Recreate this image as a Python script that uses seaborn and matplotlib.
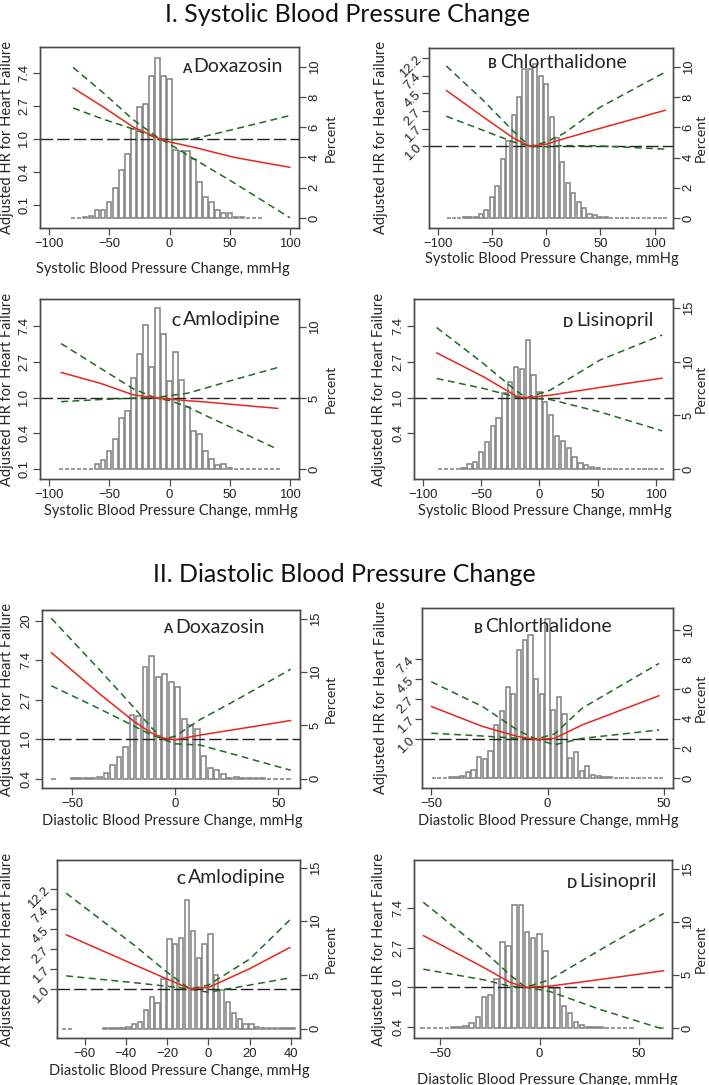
import numpy as np
import matplotlib
matplotlib.use("Agg")
import matplotlib.pyplot as plt
import seaborn as sns

sns.set_style("ticks")
plt.rcParams["font.family"] = ["Lato", "DejaVu Sans"]
plt.rcParams["lines.scale_dashes"] = False

# ---------------- data (log HR, % off the right axis) ----------------
# I. systolic -- A Doxazosin
sbp_dox_x = [-80, -55, -30, -8, 0, 20, 54, 100]
sbp_dox_fit = [1.55, 0.97, 0.36, 0.0, -0.09, -0.25, -0.56, -0.86]
sbp_dox_ci_a = [2.17, 1.40, 0.58, 0.0, -0.15, -0.60, -1.34, -2.39]
sbp_dox_ci_b = [0.94, 0.60, 0.30, 0.0, -0.02, 0.00, 0.30, 0.71]
sbp_dox_bin0, sbp_dox_binw = -80, 5
sbp_dox_pct = [0.03, 0.03, 0.05, 0.1, 0.5, 0.5, 1.05, 2.0, 3.15, 4.25,
               5.9, 7.35, 7.55, 9.4, 10.6, 9.4, 9.2, 4.5, 4.45, 4.4,
               3.9, 2.4, 1.4, 1.05, 0.5, 0.35, 0.3, 0.05, 0.05, 0.03,
               0.03, 0.03]

# I. systolic -- B Chlorthalidone
sbp_chl_x = [-92, -58, -30, -15, 0, 16, 50, 110]
sbp_chl_fit = [1.58, 0.83, 0.23, 0.0, 0.06, 0.21, 0.51, 1.02]
sbp_chl_ci_a = [2.27, 1.30, 0.42, 0.0, 0.12, 0.36, 1.11, 2.10]
sbp_chl_ci_b = [0.85, 0.45, 0.12, 0.0, -0.01, 0.02, 0.01, -0.08]
sbp_chl_bin0, sbp_chl_binw = -90, 5
sbp_chl_pct = [0.03, 0.03, 0.03, 0.05, 0.05, 0.1, 0.3, 0.5, 1.4, 2.1,
               3.9, 5.1, 6.8, 8.0, 9.9, 9.9, 10.2, 9.4, 8.85, 6.7,
               5.3, 3.7, 2.3, 1.65, 1.05, 0.65, 0.3, 0.2, 0.1, 0.05,
               0.03, 0.03, 0.02, 0.02, 0, 0, 0, 0, 0, 0, 0]

# I. systolic -- C Amlodipine
sbp_aml_x = [-90, -57, -30, -12, 0, 14, 30, 53, 90]
sbp_aml_fit = [0.71, 0.40, 0.08, 0.0, -0.04, -0.08, -0.12, -0.19, -0.30]
sbp_aml_ci_a = [1.52, 0.82, 0.25, 0.0, 0.06, 0.12, 0.27, 0.50, 0.85]
sbp_aml_ci_b = [-0.11, -0.05, -0.01, 0.0, -0.08, -0.24, -0.50, -0.86, -1.45]
sbp_aml_bin0, sbp_aml_binw = -90, 5
sbp_aml_pct = [0, 0, 0, 0, 0.02, 0.05, 0.4, 0.65, 1.3, 2.1,
               3.6, 4.1, 6.4, 8.1, 10.1, 7.2, 11.35, 9.5, 6.2, 8.2,
               6.3, 4.35, 2.7, 2.5, 1.3, 0.7, 0.3, 0.4, 0.1, 0.05,
               0.03, 0.03, 0.02, 0.02, 0.02, 0, 0]

# I. systolic -- D Lisinopril
sbp_lis_x = [-88, -48, -19, -11, 9, 52, 105]
sbp_lis_fit = [1.26, 0.59, 0.03, 0.0, 0.07, 0.29, 0.55]
sbp_lis_ci_a = [1.97, 0.96, 0.17, 0.0, 0.21, 1.06, 1.76]
sbp_lis_ci_b = [0.54, 0.26, 0.01, 0.0, -0.05, -0.40, -0.93]
sbp_lis_bin0, sbp_lis_binw = -85, 5
sbp_lis_pct = [0.03, 0.03, 0.03, 0.05, 0.1, 0.5, 0.7, 1.65, 2.5, 4.0,
               4.8, 7.1, 8.1, 9.5, 9.3, 11.95, 8.75, 7.2, 6.2, 5.05,
               3.1, 2.6, 1.95, 1.1, 0.6, 0.4, 0.25, 0.15, 0.05, 0.03,
               0.03, 0.02, 0, 0, 0, 0, 0, 0, 0]

# II. diastolic -- A Doxazosin
dbp_dox_x = [-60, -36, -20, -12, -6, 0, 12, 30, 56]
dbp_dox_fit = [2.19, 1.12, 0.45, 0.17, 0.03, -0.02, 0.10, 0.25, 0.47]
dbp_dox_ci_a = [3.06, 1.72, 0.80, 0.32, 0.0, 0.07, 0.49, 1.00, 1.77]
dbp_dox_ci_b = [1.35, 0.75, 0.33, 0.12, 0.0, -0.12, -0.15, -0.41, -0.79]
dbp_dox_bin0, dbp_dox_binw = -58.8, 3.16
dbp_dox_pct = [0, np.nan, np.nan, 0.03, 0.03, 0.05, 0.1, 0.2, 0.5, 1.3,
               2.0, 3.0, 6.0, 5.9, 10.5, 11.5, 9.5, 9.8, 9.1, 8.65,
               5.6, 5.0, 4.65, 2.15, 1.0, 0.8, 0.4, 0.05, 0.15, 0.03,
               0.03, 0.02, 0.02, 0, 0, 0, 0]

# II. diastolic -- B Chlorthalidone
dbp_chl_x = [-50, -28, -13, -5, 3, 15, 48]
dbp_chl_fit = [0.82, 0.32, 0.07, -0.01, 0.02, 0.36, 1.09]
dbp_chl_ci_a = [1.44, 0.82, 0.23, 0.0, 0.13, 0.78, 1.90]
dbp_chl_ci_b = [0.15, 0.08, 0.02, 0.0, -0.14, 0.02, 0.23]
dbp_chl_bin0, dbp_chl_binw = -49, 2.45
dbp_chl_pct = [0.02, 0.03, 0.03, 0.05, 0.1, 0.15, 0.4, 0.55, 1.45, 1.25,
               1.85, 3.55, 4.5, 6.1, 5.65, 8.6, 9.3, 9.6, 6.7, 5.65,
               10.7, 4.55, 5.45, 4.3, 1.35, 1.75, 0.5, 0.8, 0.2, 0.15,
               0.05, 0.05, 0.03, 0.03, 0.02, 0.02, 0, 0, 0, 0, 0]

# II. diastolic -- C Amlodipine
dbp_aml_x = [-69, -36, -20, -9, 0, 20, 39.5]
dbp_aml_fit = [1.36, 0.61, 0.25, 0.01, 0.04, 0.51, 1.04]
dbp_aml_ci_a = [2.40, 1.10, 0.42, 0.0, 0.10, 0.75, 1.73]
dbp_aml_ci_b = [0.33, 0.16, 0.07, 0.0, -0.08, 0.10, 0.28]
dbp_aml_bin0, dbp_aml_binw = -70.04, 2.84
dbp_aml_pct = [0, 0, np.nan, np.nan, np.nan, np.nan, np.nan, 0.02, 0.03, 0.03,
               0.1, 0.2, 0.45, 0.6, 1.7, 2.95, 2.4, 4.6, 8.3, 7.85,
               8.4, 12.0, 9.1, 6.6, 7.9, 8.8, 5.0, 3.6, 2.5, 1.5,
               0.9, 0.45, 0.45, 0.2, 0.05, 0.05, 0.03, 0.03, 0.02, 0.02]

# II. diastolic -- D Lisinopril
dbp_lis_x = [-58.5, -28, -15, -7, 5, 30.6, 62.5]
dbp_lis_fit = [1.31, 0.50, 0.13, 0.0, 0.03, 0.20, 0.42]
dbp_lis_ci_a = [2.15, 0.92, 0.32, 0.0, 0.19, 0.95, 1.87]
dbp_lis_ci_b = [0.46, 0.19, 0.03, 0.0, -0.10, -0.56, -1.06]
dbp_lis_bin0, dbp_lis_binw = -58.85, 3.09
dbp_lis_pct = [0, 0, 0.02, 0.03, 0.03, 0.05, 0.05, 0.15, 0.45, 1.0,
               2.95, 3.1, 4.6, 8.05, 7.7, 11.55, 11.55, 9.05, 8.5, 8.8,
               7.25, 3.8, 3.8, 2.1, 1.45, 0.6, 0.25, 0.1, 0.05, 0.05,
               0.03, 0.03, 0.02, 0.02, 0.02, np.nan, np.nan, np.nan, np.nan, 0]

# HR tick positions (log scale) and their printed labels
hr_ticks_int = [-2, -1, 0, 1, 2]
hr_labels_int = ["0.1", "0.4", "1.0", "2.7", "7.4"]
hr_ticks_half = [0, 0.5, 1, 1.5, 2, 2.5]
hr_labels_half = ["1.0", "1.7", "2.7", "4.5", "7.4", "12.2"]

SBP_LABEL = "Systolic Blood Pressure Change, mmHg"
DBP_LABEL = "Diastolic Blood Pressure Change, mmHg"

# ---------------- style ----------------
W, H = 709, 1085
RED = "#e8261c"
GREEN = "#1f6b1f"
GRAY = "#858585"
FRAME = "#4a4a4a"
TICKFONT = "Liberation Sans"

fig = plt.figure(figsize=(W / 100, H / 100), dpi=100)


def draw(box, letter, drug, x, fit, ci_a, ci_b, bin0, binw, pct, xlabel,
         xlim, xticks, hr_lim, hr_ticks, hr_labels, hr_rot, pct_lim, pct_ticks,
         title_xy, xlab_xy, ylab_x, plab_x):
    l, t, r, b = box
    ax = fig.add_axes([l / W, 1 - b / H, (r - l) / W, (b - t) / H])
    ax2 = ax.twinx()

    # histogram (right axis)
    h = np.asarray(pct, float)
    centers = bin0 + binw * np.arange(len(h))
    keep = ~np.isnan(h)
    ax.bar(centers[keep], h[keep], width=0.74 * binw, facecolor="white",
           edgecolor=GRAY, linewidth=1.15)
    ax.set_ylim(pct_lim)
    ax.set_yticks(pct_ticks, [str(v) for v in pct_ticks])
    ax.yaxis.tick_right()
    ax.yaxis.set_label_position("right")
    ax.set_ylabel("Percent", fontsize=10.2, rotation=90)
    ax.yaxis.set_label_coords(plab_x, 0.5)
    for lab in ax.get_yticklabels():
        lab.set(rotation=90, va="center")

    # HR curves (left axis)
    ax2.axhline(0, color="#222222", lw=1.0, linestyle=(0, (9, 3)))
    sns.lineplot(x=x, y=ci_a, ax=ax2, color=GREEN, lw=1.1, linestyle=(0, (5, 3.2)))
    sns.lineplot(x=x, y=ci_b, ax=ax2, color=GREEN, lw=1.1, linestyle=(0, (5, 3.2)))
    sns.lineplot(x=x, y=fit, ax=ax2, color=RED, lw=1.1)
    ax2.set_ylim(hr_lim)
    ax2.yaxis.tick_left()
    ax2.yaxis.set_label_position("left")
    ax2.set_yticks(hr_ticks, hr_labels)
    ax2.set_ylabel("Adjusted HR for Heart Failure", fontsize=10.5)
    ax2.yaxis.set_label_coords(ylab_x, 0.5)
    for lab in ax2.get_yticklabels():
        if hr_rot == 90:
            lab.set(rotation=90, va="center", ha="right")
        else:
            lab.set(rotation=hr_rot, ha="right", va="center", rotation_mode="anchor")

    ax.set_xlim(xlim)
    ax.set_xticks(xticks, [f"{v}".replace("-", "\u2212") for v in xticks])
    ax.set_xlabel(xlabel, fontsize=10.5)
    ax.xaxis.set_label_coords(*xlab_xy)

    for a in (ax, ax2):
        a.tick_params(length=5, width=0.9, color=FRAME, labelsize=9.4,
                      labelfontfamily=TICKFONT, labelcolor="#222222", pad=2)
        for s in a.spines.values():
            s.set_visible(True)
            s.set_color(FRAME)
            s.set_linewidth(1.0)
    ax2.set_xlabel("")

    tl = ax2.text(title_xy[0], title_xy[1], letter, transform=ax2.transAxes,
                  fontsize=9.5, fontweight="bold", ha="left", va="baseline")
    ax2.annotate(drug, xy=(1, 0), xycoords=tl, xytext=(2, 1.9),
                 textcoords="offset points", fontsize=14, ha="left", va="baseline")


draw((40, 47, 299, 228), "A", "Doxazosin", sbp_dox_x, sbp_dox_fit, sbp_dox_ci_a, sbp_dox_ci_b,
     sbp_dox_bin0, sbp_dox_binw, sbp_dox_pct, SBP_LABEL,
     (-107.5, 107.5), [-100, -50, 0, 50, 100], (-2.70, 2.79), hr_ticks_int, hr_labels_int, 90,
     (-0.66, 11.3), [0, 2, 4, 6, 8, 10], (0.547, 0.858), (0.475, -0.188), -0.10, 1.10)
draw((429, 48, 673, 228), "B", "Chlorthalidone", sbp_chl_x, sbp_chl_fit, sbp_chl_ci_a, sbp_chl_ci_b,
     sbp_chl_bin0, sbp_chl_binw, sbp_chl_pct, SBP_LABEL,
     (-108, 117), [-100, -50, 0, 50, 100], (-2.31, 2.78), hr_ticks_half, hr_labels_half, 45,
     (-0.66, 11.26), [0, 2, 4, 6, 8, 10], (0.243, 0.887), (0.503, -0.133), -0.17, 1.09)
draw((40, 299, 299, 479), "C", "Amlodipine", sbp_aml_x, sbp_aml_fit, sbp_aml_ci_a, sbp_aml_ci_b,
     sbp_aml_bin0, sbp_aml_binw, sbp_aml_pct, SBP_LABEL,
     (-107.5, 107.5), [-100, -50, 0, 50, 100], (-2.28, 2.77), hr_ticks_int, hr_labels_int, 90,
     (-0.68, 11.95), [0, 5, 10], (0.508, 0.852), (0.504, -0.139), -0.10, 1.10)
draw((414, 299, 673, 479), "D", "Lisinopril", sbp_lis_x, sbp_lis_fit, sbp_lis_ci_a, sbp_lis_ci_b,
     sbp_lis_bin0, sbp_lis_binw, sbp_lis_pct, SBP_LABEL,
     (-107.4, 114.3), [-100, -50, 0, 50, 100], (-2.28, 2.77), hr_ticks_int[1:], hr_labels_int[1:], 90,
     (-0.9, 15.8), [0, 5, 10, 15], (0.576, 0.846), (0.505, -0.139), -0.108, 1.085)

draw((42, 610, 300, 788), "A", "Doxazosin", dbp_dox_x, dbp_dox_fit, dbp_dox_ci_a, dbp_dox_ci_b,
     dbp_dox_bin0, dbp_dox_binw, dbp_dox_pct, DBP_LABEL,
     (-64.5, 60.5), [-50, 0, 50], (-1.24, 3.27), [-1, 0, 1, 2, 3], ["0.4", "1.0", "2.7", "7.4", "20"], 90,
     (-0.88, 15.84), [0, 5, 10, 15], (0.47, 0.869), (0.507, -0.146), -0.108, 1.097)
draw((422, 608, 673, 788), "B", "Chlorthalidone", dbp_chl_x, dbp_chl_fit, dbp_chl_ci_a, dbp_chl_ci_b,
     dbp_chl_bin0, dbp_chl_binw, dbp_chl_pct, DBP_LABEL,
     (-54, 54), [-50, 0, 50], (-1.225, 3.29), hr_ticks_half[:5], hr_labels_half[:5], 45,
     (-0.67, 11.45), [0, 2, 4, 6, 8, 10], (0.207, 0.863), (0.503, -0.146), -0.137, 1.088)
draw((57, 860, 300, 1038), "C", "Amlodipine", dbp_aml_x, dbp_aml_fit, dbp_aml_ci_a, dbp_aml_ci_b,
     dbp_aml_bin0, dbp_aml_binw, dbp_aml_pct, DBP_LABEL,
     (-73.4, 44.4), [-60, -40, -20, 0, 20, 40], (-1.225, 3.23), hr_ticks_half, hr_labels_half, 45,
     (-0.87, 15.7), [0, 5, 10, 15], (0.493, 0.865), (0.502, -0.146), -0.175, 1.103)
draw((414, 860, 672, 1038), "D", "Lisinopril", dbp_lis_x, dbp_lis_fit, dbp_lis_ci_a, dbp_lis_ci_b,
     dbp_lis_bin0, dbp_lis_binw, dbp_lis_pct, DBP_LABEL,
     (-63.2, 66.7), [-50, 0, 50], (-1.28, 3.22), hr_ticks_int[1:], hr_labels_int[1:], 90,
     (-0.94, 15.8), [0, 5, 10, 15], (0.592, 0.844), (0.516, -0.195), -0.108, 1.088)

fig.text(348 / W, 1 - 14 / H, "I. Systolic Blood Pressure Change", fontsize=18,
         ha="center", va="center", color="#111111")
fig.text(344 / W, 1 - 575 / H, "II. Diastolic Blood Pressure Change", fontsize=18,
         ha="center", va="center", color="#111111")

fig.savefig("out.png", dpi=100)
